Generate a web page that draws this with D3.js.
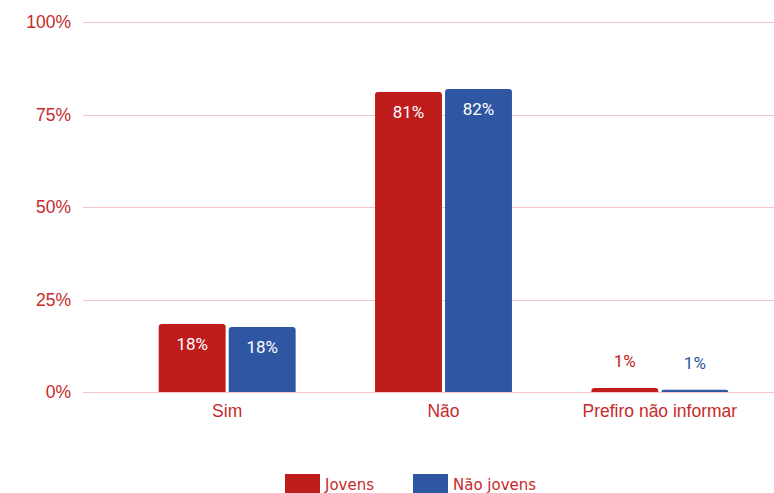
<!DOCTYPE html>
<html><head><meta charset="utf-8">
<script src="https://cdn.jsdelivr.net/npm/d3@7"></script>
<style>body{margin:0;background:#fff}svg{display:block}</style>
</head><body><svg id="c" width="774" height="493"></svg>
<script>
const categories = ["Sim", "Não", "Prefiro não informar"];
const seriesNames = ["Jovens", "Não jovens"];
const jovens = [18.4, 81.1, 1.1];
const naoJovens = [17.6, 81.9, 0.6];
const labelsJovens = ["18%", "81%", "1%"];
const labelsNaoJovens = ["18%", "82%", "1%"];
const yTicks = [0, 25, 50, 75, 100];
const colors = ["#bf1c1c", "#2f56a3"];
const textRed = "#c62a2a";

const svg = d3.select("#c");
const y = d3.scaleLinear().domain([0, 100]).range([392, 22]);
const x = d3.scaleBand().domain(categories).range([119, 768]).paddingInner(0.367).paddingOuter(0.1835);
const xs = d3.scaleBand().domain(seriesNames).range([0, x.bandwidth()]).paddingInner(0.044);

// grid
svg.append("g").selectAll("line").data(yTicks).join("line")
  .attr("x1", 83).attr("x2", 774)
  .attr("y1", d => Math.round(y(d)) + 0.5).attr("y2", d => Math.round(y(d)) + 0.5)
  .attr("stroke", "#f3c4c4").attr("stroke-width", 1);

// y labels
svg.append("g").selectAll("text").data(yTicks).join("text")
  .attr("x", 71).attr("y", d => y(d) + 6)
  .attr("text-anchor", "end")
  .attr("font-family", "Liberation Sans, Arial, sans-serif")
  .attr("font-size", 17.5).attr("fill", textRed)
  .text(d => d + "%");

// bars
const data = [];
categories.forEach((c, i) => {
  data.push({c, s: seriesNames[0], v: jovens[i], lab: labelsJovens[i], col: colors[0]});
  data.push({c, s: seriesNames[1], v: naoJovens[i], lab: labelsNaoJovens[i], col: colors[1]});
});
function barPath(x0, y0, w, h, r) {
  r = Math.min(r, h, w / 2);
  return `M${x0},${y0 + h}V${y0 + r}Q${x0},${y0} ${x0 + r},${y0}H${x0 + w - r}Q${x0 + w},${y0} ${x0 + w},${y0 + r}V${y0 + h}Z`;
}
const g = svg.append("g");
data.forEach(d => {
  const bx = x(d.c) + xs(d.s), by = y(d.v), bw = xs.bandwidth(), bh = y(0) - y(d.v);
  g.append("path").attr("d", barPath(bx, by, bw, bh, 3)).attr("fill", d.col);
  const inside = bh > 30;
  g.append("text")
    .attr("x", bx + bw / 2)
    .attr("y", inside ? by + 26 : by - 21)
    .attr("text-anchor", "middle")
    .attr("font-family", "Roboto")
    .attr("font-weight", 400)
    .attr("font-size", 17)
    .attr("fill", inside ? "#ffffff" : d.col)
    .text(d.lab);
});

// x labels
svg.append("g").selectAll("text").data(categories).join("text")
  .attr("x", d => x(d) + x.bandwidth() / 2).attr("y", 417)
  .attr("text-anchor", "middle")
  .attr("font-family", "Liberation Sans, Arial, sans-serif")
  .attr("font-size", 17.5).attr("fill", textRed)
  .text(d => d);

// legend
const legX = [285, 413];
const lg = svg.append("g");
seriesNames.forEach((s, i) => {
  lg.append("rect").attr("x", legX[i]).attr("y", 474).attr("width", 35).attr("height", 19).attr("fill", colors[i]);
  lg.append("text").attr("x", legX[i] + 40).attr("y", 490)
    .attr("font-family", "DejaVu Sans, sans-serif").attr("font-size", 15).attr("fill", textRed)
    .text(s);
});
</script></body></html>
